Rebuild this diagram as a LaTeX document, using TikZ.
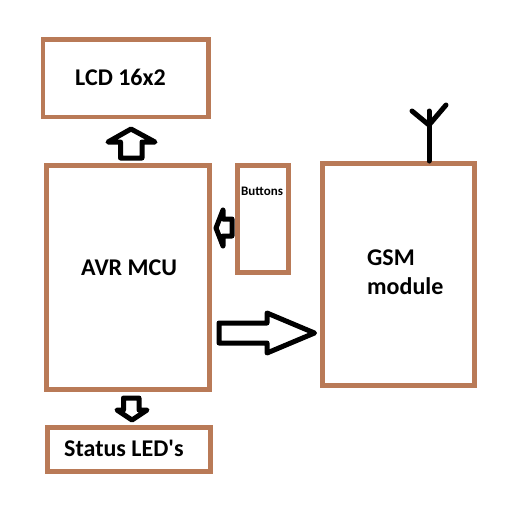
\documentclass[tikz,border=0pt]{standalone}
\usepackage{fontspec}
\setmainfont{Carlito}[Ligatures=TeXOff]
\definecolor{boxbrown}{RGB}{185,122,87}
\tikzset{
  blockbox/.style={draw=boxbrown,line width=4.5pt,fill=white,inner sep=0pt,outer sep=0pt,minimum width=#1},
  boxtext/.style={anchor=west,inner sep=0pt,font=\bfseries\fontsize{24}{29}\selectfont,text=black},
  smalltext/.style={anchor=west,inner sep=0pt,font=\bfseries\fontsize{13}{15}\selectfont,text=black},
  blockarrow/.style={draw=black,line width=5pt,line join=round,fill=white},
  antennaline/.style={draw=black,line width=5pt,line cap=round}
}
\begin{document}
\begin{tikzpicture}[x=1pt,y=-1pt]
\useasboundingbox (0,0) rectangle (528,509);
\fill[white] (0,0) rectangle (528,509);
\node[blockbox=165.3pt,minimum height=77.5pt] (lcd) at (125.85,78.25) {};
\node[blockbox=163.4pt,minimum height=224.2pt] (avr) at (128,277.4) {};
\node[blockbox=51.2pt,minimum height=107.4pt] (btn) at (262.9,219) {};
\node[blockbox=163.4pt,minimum height=44.2pt] (led) at (129,449.4) {};
\node[blockbox=152.2pt,minimum height=222.2pt] (gsm) at (398.4,274.4) {};
\node[boxtext] (lcdt) at (75,77) {LCD 16x2};
\node[boxtext] (avrt) at (81,268) {AVR MCU};
\node[boxtext] (ledt) at (64,448) {Status LED's};
\node[boxtext,align=left] (gsmt) at (367,272) {GSM\\module};
\node[smalltext] (btnt) at (241,191) {Buttons};
\draw[blockarrow] (120.5,158) -- (120.5,142) -- (108,142) -- (131,129) -- (155,142) -- (142,142) -- (142,158) -- cycle;
\draw[blockarrow] (232,219) -- (223,219) -- (223,210) -- (216,228) -- (223,246) -- (223,236) -- (232,236) -- cycle;
\draw[blockarrow] (219,323) -- (267,323) -- (267,313) -- (314.5,333) -- (267,353) -- (267,343) -- (219,343) -- cycle;
\draw[blockarrow] (123.5,398) -- (139,398) -- (139,410) -- (147,410) -- (132,420) -- (117,410) -- (123.5,410) -- cycle;
\coordinate (ant) at (429,161);
\coordinate (antjoin) at (429,125);
\draw[antennaline] (ant) -- (429,111);
\draw[antennaline] (412,111) -- (antjoin) -- (446,105);
\end{tikzpicture}
\end{document}
